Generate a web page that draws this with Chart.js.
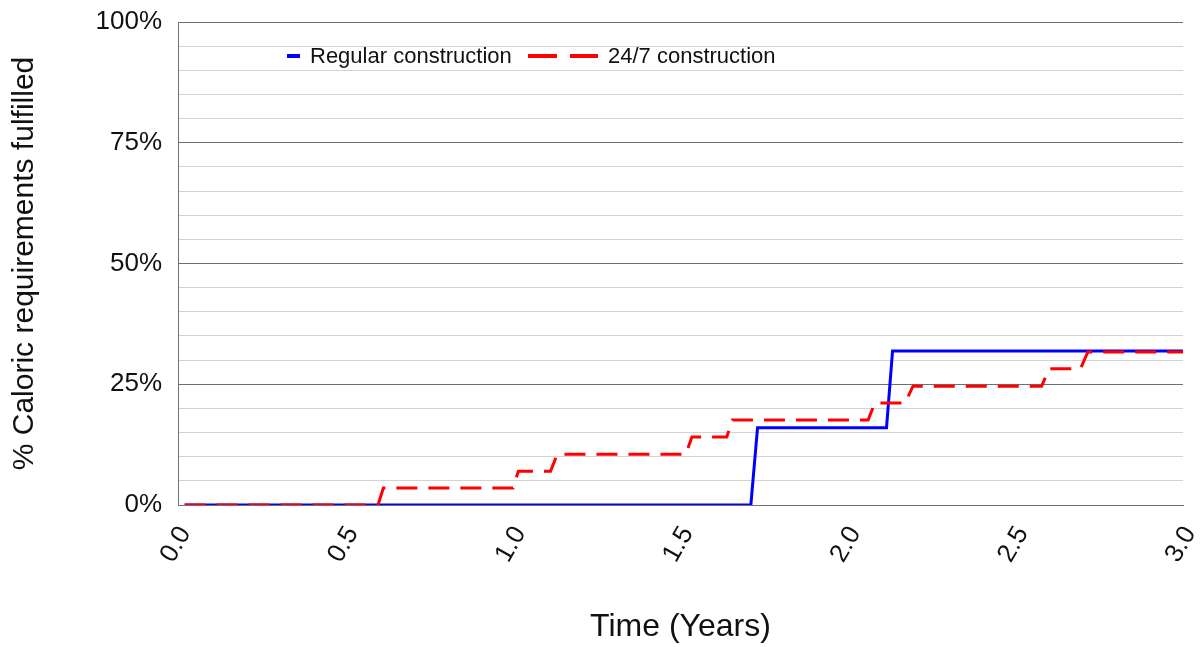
<!DOCTYPE html>
<html>
<head>
<meta charset="utf-8">
<script src="https://cdn.jsdelivr.net/npm/chart.js@4.4.1/dist/chart.umd.min.js"></script>
<style>
  html, body { margin: 0; padding: 0; background: #ffffff; }
  #wrap { width: 1204px; height: 647px; }
</style>
</head>
<body>
<div id="wrap"><canvas id="c" width="1204" height="647"></canvas></div>
<script>
// ---- Data ----
const seriesNames = ["Regular construction", "24/7 construction"];

const regularTimes  = [0.02, 1.710, 1.730, 2.115, 2.133, 3.0];
const regularValues = [0,    0,     16.0,  16.0,  31.9,  31.9];

const fastTimes  = [0.02, 0.597, 0.613, 1.000, 1.016, 1.112, 1.132, 1.516, 1.534, 1.638, 1.655,
                    2.060, 2.080, 2.170, 2.194, 2.578, 2.600, 2.694, 2.716, 3.0];
const fastValues = [0,    0,     3.5,   3.5,   7.0,   7.0,   10.5,  10.5,  14.1,  14.1,  17.6,
                    17.6,  21.1,  21.1,  24.6,  24.6,  28.2,  28.2,  31.7,  31.7];

const xTickValues = [0, 0.5, 1.0, 1.5, 2.0, 2.5, 3.0];
const yTickLabels = { 0: "0%", 25: "25%", 50: "50%", 75: "75%", 100: "100%" };

const toPoints = (xs, ys) => xs.map((x, i) => ({ x: x, y: ys[i] }));

const FONT = "'Liberation Sans', Arial, sans-serif";
const TEXT = "#111111";

const legendPlugin = {
  id: 'customLegend',
  afterDraw(chart) {
    const ctx = chart.ctx;
    const y = 56;
    ctx.save();
    ctx.strokeStyle = '#0000ff';
    ctx.lineWidth = 4;
    ctx.setLineDash([]);
    ctx.beginPath();
    ctx.moveTo(287, y); ctx.lineTo(300, y);
    ctx.stroke();
    ctx.fillStyle = TEXT;
    ctx.font = "22px " + FONT;
    ctx.textBaseline = 'middle';
    ctx.textAlign = 'left';
    ctx.fillText(chart.data.datasets[0].label, 310, y + 1);
    ctx.strokeStyle = '#ff0000';
    ctx.beginPath();
    ctx.moveTo(528, y); ctx.lineTo(557, y);
    ctx.moveTo(570, y); ctx.lineTo(598, y);
    ctx.stroke();
    ctx.fillText(chart.data.datasets[1].label, 608, y + 1);
    ctx.restore();
  }
};

new Chart(document.getElementById('c'), {
  type: 'line',
  data: {
    datasets: [
      {
        label: seriesNames[0],
        data: toPoints(regularTimes, regularValues),
        borderColor: '#0000ff',
        backgroundColor: '#0000ff',
        borderWidth: 3,
        pointRadius: 0,
        tension: 0,
        order: 1
      },
      {
        label: seriesNames[1],
        data: toPoints(fastTimes, fastValues),
        borderColor: '#ff0000',
        backgroundColor: '#ff0000',
        borderWidth: 3,
        borderDash: [21, 11],
        pointRadius: 0,
        tension: 0,
        order: 0
      }
    ]
  },
  options: {
    responsive: false,
    animation: false,
    devicePixelRatio: 1,
    layout: { padding: { top: 22, right: 21, left: 0, bottom: 0 } },
    plugins: {
      legend: { display: false },
      tooltip: { enabled: false }
    },
    scales: {
      x: {
        type: 'linear',
        min: 0,
        max: 3,
        afterBuildTicks(scale) {
          scale.ticks = xTickValues.map(v => ({ value: v }));
        },
        afterFit(scale) {
          scale.height = 142;
          scale.paddingLeft = 0; scale.paddingRight = 0;
          scale.paddingTop = 0; scale.paddingBottom = 0;
        },
        grid: { display: false, drawTicks: false },
        border: { display: true, color: '#707070', width: 1 },
        ticks: {
          minRotation: 60,
          maxRotation: 60,
          padding: 16,
          labelOffset: 7,
          color: TEXT,
          font: { family: FONT, size: 26 },
          callback: (v) => Number(v).toFixed(1)
        },
        title: {
          display: true,
          text: 'Time (Years)',
          color: TEXT,
          font: { family: FONT, size: 32 },
          padding: { top: 0, bottom: 1 }
        }
      },
      y: {
        type: 'linear',
        min: 0,
        max: 100,
        afterFit(scale) {
          scale.width = 178;
          scale.paddingLeft = 0; scale.paddingRight = 0;
          scale.paddingTop = 0; scale.paddingBottom = 0;
        },
        ticks: {
          stepSize: 5,
          autoSkip: false,
          padding: 16,
          color: TEXT,
          font: { family: FONT, size: 26 },
          callback: (v) => (yTickLabels[v] !== undefined ? yTickLabels[v] : '')
        },
        grid: {
          drawTicks: false,
          color: (c) => (c.tick && c.tick.value % 25 === 0 ? '#707070' : '#d3d3d3'),
          lineWidth: 1
        },
        border: { display: true, color: '#707070', width: 1 },
        title: {
          display: true,
          text: '% Caloric requirements fulfilled',
          color: TEXT,
          font: { family: FONT, size: 30 },
          padding: { top: 7, bottom: 0 }
        }
      }
    }
  },
  plugins: [legendPlugin]
});
</script>
</body>
</html>
